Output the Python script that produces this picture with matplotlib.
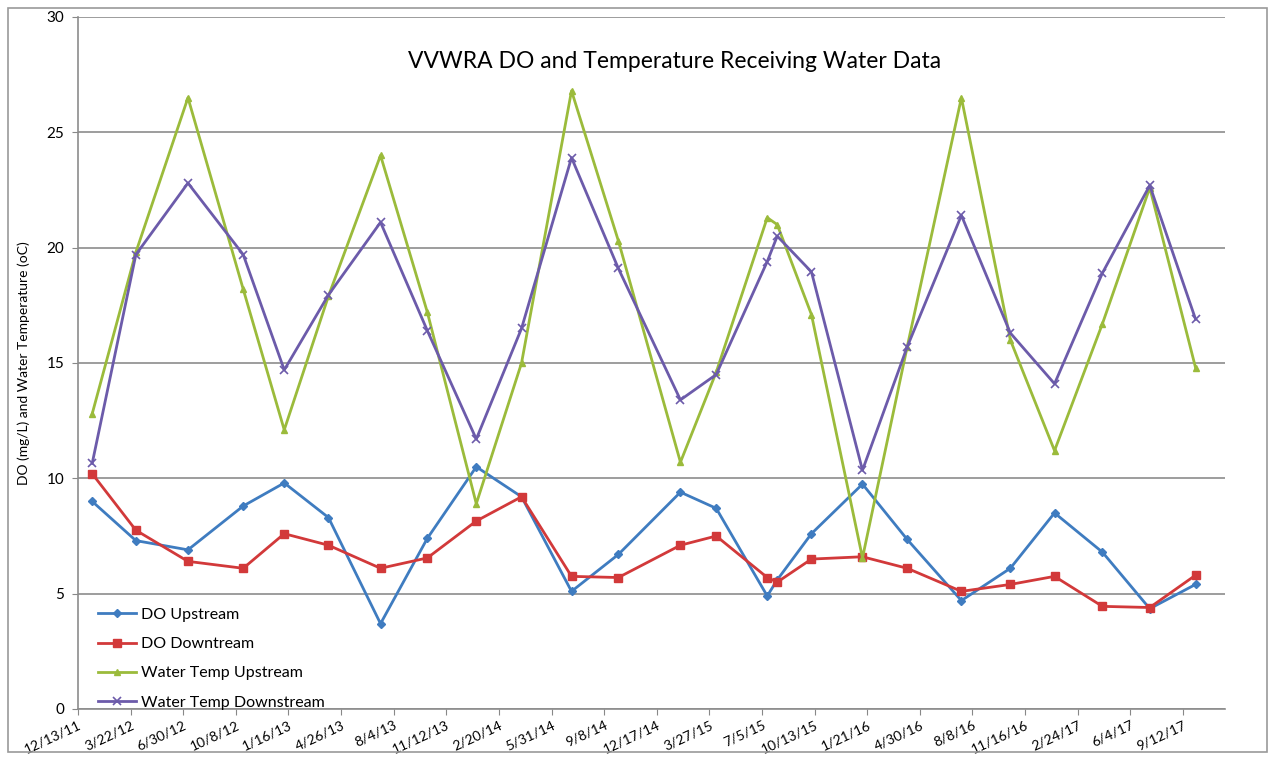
import numpy as np
import pandas as pd
import matplotlib
matplotlib.use("Agg")
import matplotlib.pyplot as plt
from matplotlib.patches import Rectangle

plt.rcParams["font.family"] = ["Lato", "DejaVu Sans"]

# sample dates
dates = pd.to_datetime([
    "2012-01-09", "2012-04-01", "2012-07-09", "2012-10-22", "2013-01-08",
    "2013-04-02", "2013-07-10", "2013-10-07", "2014-01-08", "2014-04-04",
    "2014-07-08", "2014-10-05", "2015-01-31", "2015-04-09", "2015-07-15",
    "2015-08-03", "2015-10-07", "2016-01-12", "2016-04-06", "2016-07-18",
    "2016-10-19", "2017-01-11", "2017-04-12", "2017-07-11", "2017-10-06",
])

do_up = [9.0, 7.3, 6.9, 8.8, 9.8, 8.3, 3.7, 7.4, 10.5, 9.2, 5.1, 6.7, 9.4,
         8.7, 4.9, 5.6, 7.6, 9.75, 7.35, 4.7, 6.1, 8.5, 6.8, 4.35, 5.4]
do_down = [10.2, 7.75, 6.4, 6.1, 7.6, 7.1, 6.1, 6.55, 8.15, 9.2, 5.75, 5.7,
           7.1, 7.5, 5.7, 5.5, 6.5, 6.6, 6.1, 5.1, 5.4, 5.75, 4.45, 4.4, 5.8]
temp_up = [12.8, 19.8, 26.5, 18.2, 12.1, 17.9, 24.0, 17.2, 8.9, 15.0, 26.8,
           20.3, 10.7, 14.6, 21.3, 21.0, 17.1, 6.55, 15.7, 26.5, 16.0, 11.2,
           16.7, 22.6, 14.8]
temp_down = [10.65, 19.7, 22.8, 19.7, 14.7, 17.95, 21.1, 16.4, 11.7, 16.5,
             23.9, 19.1, 13.4, 14.5, 19.4, 20.5, 18.95, 10.35, 15.7, 21.4,
             16.3, 14.1, 18.9, 22.7, 16.9]

series = [
    ("DO Upstream", do_up, "#3F7CC0", "D", 4.5, 1.0),
    ("DO Downtream", do_down, "#D2393A", "s", 6, 1.0),
    ("Water Temp Upstream", temp_up, "#9BBB3B", "^", 5, 1.0),
    ("Water Temp Downstream", temp_down, "#6C5BAA", "x", 6, 1.2),
]

fig = plt.figure(figsize=(12.75, 7.57), dpi=100)
ax = fig.add_axes([78 / 1275, 1 - 709 / 757, (1225 - 78) / 1275, (709 - 17) / 757])

for label, vals, color, marker, ms, mew in series:
    ax.plot(dates, vals, color=color, linewidth=2, marker=marker,
            markersize=ms, markeredgewidth=mew, markeredgecolor=color,
            label=label)

# Excel-style date axis: a tick every 100 days from 12/13/11
start = pd.Timestamp("2011-12-13")
ax.set_xlim(start, start + pd.Timedelta(days=2180))
ticks = [start + pd.Timedelta(days=100 * i) for i in range(22)]
ax.set_xticks(ticks)
ax.set_xticklabels([f"{t.month}/{t.day}/{t.year % 100}" for t in ticks],
                   rotation=25, ha="right", rotation_mode="anchor", fontsize=10)

ax.set_ylim(0, 30)
ax.set_yticks(range(0, 31, 5))
ax.tick_params(axis="y", labelsize=11, length=4, color="#888888", pad=6)
ax.tick_params(axis="x", length=4, color="#888888", pad=3)
ax.grid(axis="y", color="#8c8c8c", linewidth=1.2)
ax.set_axisbelow(True)
for side in ["top", "right"]:
    ax.spines[side].set_visible(False)
for side in ["left", "bottom"]:
    ax.spines[side].set_color("#8c8c8c")
    ax.spines[side].set_linewidth(1.2)

ax.set_ylabel("DO (mg/L) and Water Temperature (oC)", fontsize=10, labelpad=12)
ax.text(0.52, 0.935, "VVWRA DO and Temperature Receiving Water Data",
        transform=ax.transAxes, ha="center", va="center", fontsize=16.5)

ax.legend(loc="lower left", bbox_to_anchor=(0.005, -0.022), frameon=False,
          fontsize=11.5, handlelength=2.4, handletextpad=0.3,
          labelspacing=0.95, borderaxespad=0.5)

fig.patches.append(Rectangle((8 / 1275, 5 / 757), 1259 / 1275, 744 / 757,
                             transform=fig.transFigure, fill=False,
                             edgecolor="#9a9a9a", linewidth=1.2))

fig.savefig("out.png", dpi=100)
